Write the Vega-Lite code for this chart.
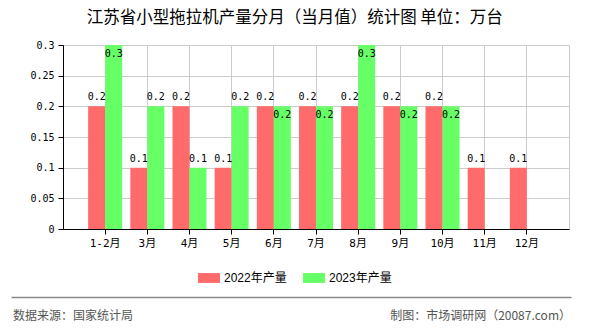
{
  "$schema": "https://vega.github.io/schema/vega-lite/v6.json",
  "padding": {"left": 10, "right": 20, "top": 10, "bottom": 0},
  "background": "white",
  "title": {"text": "江苏省小型拖拉机产量分月（当月值）统计图 单位：万台", "font": "Noto Sans CJK SC", "fontSize": 16.5, "fontWeight": "normal", "color": "#000000", "anchor": "middle", "offset": 13, "dx": 4},
  "datasets": {
    "prod": [
      {"month": "1-2月", "2022年产量": 0.2, "2023年产量": 0.3},
      {"month": "3月", "2022年产量": 0.1, "2023年产量": 0.2},
      {"month": "4月", "2022年产量": 0.2, "2023年产量": 0.1},
      {"month": "5月", "2022年产量": 0.1, "2023年产量": 0.2},
      {"month": "6月", "2022年产量": 0.2, "2023年产量": 0.2},
      {"month": "7月", "2022年产量": 0.2, "2023年产量": 0.2},
      {"month": "8月", "2022年产量": 0.2, "2023年产量": 0.3},
      {"month": "9月", "2022年产量": 0.2, "2023年产量": 0.2},
      {"month": "10月", "2022年产量": 0.2, "2023年产量": 0.2},
      {"month": "11月", "2022年产量": 0.1, "2023年产量": null},
      {"month": "12月", "2022年产量": 0.1, "2023年产量": null}
    ],
    "footer": [
      {"role": "source", "label": "数据来源：国家统计局"},
      {"role": "credit", "label": "制图：市场调研网（20087.com）"}
    ]
  },
  "spacing": 48,
  "vconcat": [
    {
      "width": 506,
      "height": 184,
      "data": {"name": "prod"},
      "transform": [
        {"fold": ["2022年产量", "2023年产量"], "as": ["series", "value"]},
        {"filter": "isValid(datum.value)"}
      ],
      "encoding": {
        "x": {"field": "month", "type": "nominal", "sort": null,
          "scale": {"paddingInner": 0, "paddingOuter": 0.5},
          "axis": {"title": null, "labelAngle": 0, "bandPosition": 0.5, "grid": true, "gridColor": "#cccccc",
            "domainColor": "#000000", "tickColor": "#000000", "tickSize": 5, "labelPadding": 3,
            "labelFont": "DejaVu Sans Mono, Noto Sans CJK SC", "labelFontSize": 11, "labelColor": "#000000"}},
        "xOffset": {"field": "series", "type": "nominal", "scale": {"paddingInner": 0, "paddingOuter": 0.24}},
        "y": {"field": "value", "type": "quantitative",
          "scale": {"domain": [0, 0.3], "nice": false},
          "axis": {"title": null, "values": [0, 0.05, 0.1, 0.15, 0.2, 0.25, 0.3], "format": "~g",
            "grid": true, "gridColor": "#cccccc", "domainColor": "#000000", "tickColor": "#000000", "tickSize": 5,
            "labelPadding": 4, "labelFont": "DejaVu Sans Mono", "labelFontSize": 10, "labelColor": "#000000",
            "minExtent": 52}}
      },
      "layer": [
        {
          "mark": {"type": "bar"},
          "encoding": {
            "color": {"field": "series", "type": "nominal",
              "scale": {"domain": ["2022年产量", "2023年产量"], "range": ["#ff6b6b", "#66ff66"]},
              "legend": {"title": null, "orient": "none", "direction": "horizontal", "legendX": 135, "legendY": 222,
                "symbolType": "M-1,-0.45H1V0.45H-1Z", "symbolSize": 484, "symbolStrokeWidth": 0, "symbolOpacity": 1,
                "labelFont": "Liberation Sans, Noto Sans CJK SC", "labelFontSize": 12, "labelColor": "#000000",
                "labelOffset": 4, "columnPadding": 16, "padding": 0}}
          }
        },
        {
          "transform": [{"filter": "datum.series == '2022年产量' || (datum['2023年产量'] != datum['2022年产量'] && datum['2023年产量'] < 0.3)"}],
          "mark": {"type": "text", "baseline": "bottom", "dy": -4, "font": "DejaVu Sans Mono", "fontSize": 10, "color": "#000000"},
          "encoding": {"text": {"field": "value", "type": "quantitative", "format": ".1f"}}
        },
        {
          "transform": [{"filter": "datum.series == '2023年产量' && !(datum['2023年产量'] != datum['2022年产量'] && datum['2023年产量'] < 0.3)"}],
          "mark": {"type": "text", "baseline": "top", "dy": 4, "font": "DejaVu Sans Mono", "fontSize": 10, "color": "#000000"},
          "encoding": {"text": {"field": "value", "type": "quantitative", "format": ".1f"}}
        }
      ]
    },
    {
      "width": 508,
      "height": 30,
      "view": {"stroke": null},
      "data": {"name": "footer"},
      "encoding": {
        "x": {"field": "role", "type": "nominal",
          "scale": {"type": "point", "domain": ["source", "credit"], "padding": 0, "range": [0, 560]},
          "axis": {"orient": "top", "position": -52, "title": null, "labels": false, "ticks": false, "grid": false, "domainColor": "#888888", "domainWidth": 1.5}}
      },
      "layer": [
        {
          "transform": [{"filter": "datum.role == 'source'"}],
          "mark": {"type": "text", "align": "left", "baseline": "middle", "dx": -50, "dy": 4, "font": "Noto Sans CJK SC", "fontSize": 12, "color": "#555555"},
          "encoding": {"text": {"field": "label"}}
        },
        {
          "transform": [{"filter": "datum.role == 'credit'"}],
          "mark": {"type": "text", "align": "right", "baseline": "middle", "dx": -52, "dy": 4, "font": "Noto Sans CJK SC", "fontSize": 12, "color": "#555555"},
          "encoding": {"text": {"field": "label"}}
        }
      ]
    }
  ],
  "config": {
    "view": {"stroke": "#cccccc"},
    "axis": {"domainWidth": 1}
  }
}
